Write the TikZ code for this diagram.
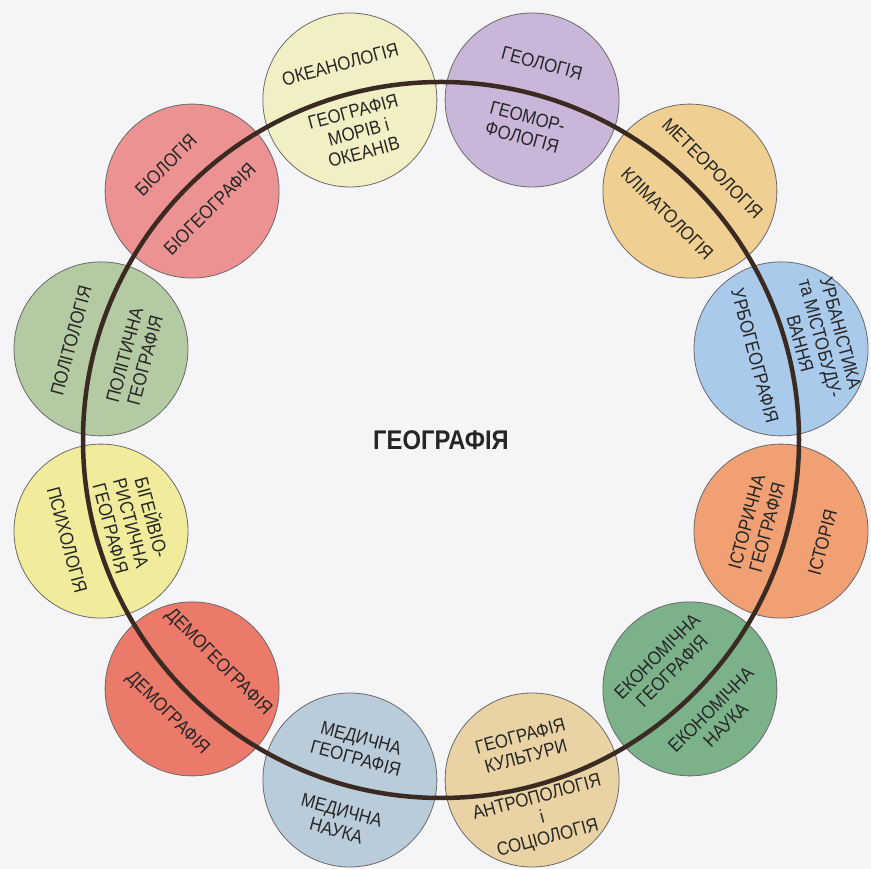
\documentclass[tikz,border=0pt]{standalone}
\usepackage{fontspec}
\setmainfont[FakeStretch=0.88]{Liberation Sans}
\usetikzlibrary{calc}
\definecolor{paper}{HTML}{F5F4F6}
\definecolor{ink}{HTML}{262626}
\definecolor{ringc}{HTML}{3A2A22}
\definecolor{discline}{HTML}{6A6A6A}
\definecolor{oceanc}{HTML}{F1EFC3}
\definecolor{geolc}{HTML}{C9B6D9}
\definecolor{meteoc}{HTML}{F0CF92}
\definecolor{urbanc}{HTML}{AACAEC}
\definecolor{histc}{HTML}{F0A072}
\definecolor{econc}{HTML}{7BB28A}
\definecolor{cultc}{HTML}{E9D2A3}
\definecolor{medc}{HTML}{BACBD9}
\definecolor{democ}{HTML}{EC7A6A}
\definecolor{psychc}{HTML}{F1EC9C}
\definecolor{politc}{HTML}{B3CAA3}
\definecolor{bioc}{HTML}{EC9292}
\tikzset {
  % one of the twelve neighbour sciences
  disc/.style = {
    draw = discline,
    circle,
    line width = 0.8pt,
    minimum size = 174pt,
    inner sep = 0
  },
  % text inside a disc
  tag/.style = {
    text = ink,
    align = center,
    inner sep = 0,
    font = \fontsize{19}{21}\selectfont
  },
  % the big ring
  ring/.style = {
    draw = ringc,
    line width = 4.5pt
  }
}

\begin{document}
\begin{tikzpicture}[x=1pt, y=1pt]
    \useasboundingbox[fill=paper] (0,0) rectangle (871,869);
    \node[text=ink, font=\bfseries\fontsize{27}{30}\selectfont] (geo) at (441,429) {ГЕОГРАФІЯ};

    \node[disc, fill=oceanc] (ocean) at ($(geo)+(105:352)$) {};
    \node[disc, fill=geolc] (geol) at ($(geo)+(75:352)$) {};
    \node[disc, fill=meteoc] (meteo) at ($(geo)+(45:352)$) {};
    \node[disc, fill=urbanc] (urban) at ($(geo)+(15:352)$) {};
    \node[disc, fill=histc] (hist) at ($(geo)+(-15:352)$) {};
    \node[disc, fill=econc] (econ) at ($(geo)+(-45:352)$) {};
    \node[disc, fill=cultc] (cult) at ($(geo)+(-75:352)$) {};
    \node[disc, fill=medc] (med) at ($(geo)+(-105:352)$) {};
    \node[disc, fill=democ] (demo) at ($(geo)+(-135:352)$) {};
    \node[disc, fill=psychc] (psych) at ($(geo)+(-165:352)$) {};
    \node[disc, fill=politc] (polit) at ($(geo)+(165:352)$) {};
    \node[disc, fill=bioc] (bio) at ($(geo)+(135:352)$) {};

    \draw[ring] (geo.center) circle[radius=358];

    \node[tag, rotate=15] (ocean-out) at ($(ocean)+(105:37)$) {ОКЕАНОЛОГІЯ};
    \node[tag, rotate=15] (ocean-in) at ($(ocean)+(285:33)$) {ГЕОГРАФІЯ\\МОРІВ і\\ОКЕАНІВ};
    \node[tag, rotate=-15] (geol-out) at ($(geol)+(75:38)$) {ГЕОЛОГІЯ};
    \node[tag, rotate=-15] (geol-in) at ($(geol)+(255:28)$) {ГЕОМОР-\\ФОЛОГІЯ};
    \node[tag, rotate=-45] (meteo-out) at ($(meteo)+(45:32)$) {МЕТЕОРОЛОГІЯ};
    \node[tag, rotate=-45] (meteo-in) at ($(meteo)+(225:32)$) {КЛІМАТОЛОГІЯ};
    \node[tag, rotate=-75] (urban-out) at ($(urban)+(15:41)$) {УРБАНІСТИКА\\та МІСТОБУДУ-\\ВАННЯ};
    \node[tag, rotate=-75] (urban-in) at ($(urban)+(195:27)$) {УРБОГЕОГРАФІЯ};
    \node[tag, rotate=75] (hist-in) at ($(hist)+(165:25)$) {ІСТОРИЧНА\\ГЕОГРАФІЯ};
    \node[tag, rotate=75] (hist-out) at ($(hist)+(-15:43)$) {ІСТОРІЯ};
    \node[tag, rotate=45] (econ-in) at ($(econ)+(135:36)$) {ЕКОНОМІЧНА\\ГЕОГРАФІЯ};
    \node[tag, rotate=45] (econ-out) at ($(econ)+(-45:40)$) {ЕКОНОМІЧНА\\НАУКА};
    \node[tag, rotate=15] (cult-in) at ($(cult)+(105:35)$) {ГЕОГРАФІЯ\\КУЛЬТУРИ};
    \node[tag, rotate=15] (cult-out) at ($(cult)+(-75:40)$) {АНТРОПОЛОГІЯ\\і\\СОЦІОЛОГІЯ};
    \node[tag, rotate=-15] (med-in) at ($(med)+(75:33)$) {МЕДИЧНА\\ГЕОГРАФІЯ};
    \node[tag, rotate=-15] (med-out) at ($(med)+(-105:42)$) {МЕДИЧНА\\НАУКА};
    \node[tag, rotate=-45] (demo-in) at ($(demo)+(45:37)$) {ДЕМОГЕОГРАФІЯ};
    \node[tag, rotate=-45] (demo-out) at ($(demo)+(-135:35)$) {ДЕМОГРАФІЯ};
    \node[tag, rotate=-75] (psych-out) at ($(psych)+(-165:35)$) {ПСИХОЛОГІЯ};
    \node[tag, rotate=-75] (psych-in) at ($(psych)+(15:33)$) {БІГЕЙВІО-\\РИСТИЧНА\\ГЕОГРАФІЯ};
    \node[tag, rotate=75] (polit-out) at ($(polit)+(165:31)$) {ПОЛІТОЛОГІЯ};
    \node[tag, rotate=75] (polit-in) at ($(polit)+(-15:35)$) {ПОЛІТИЧНА\\ГЕОГРАФІЯ};
    \node[tag, rotate=45] (bio-out) at ($(bio)+(135:37)$) {БІОЛОГІЯ};
    \node[tag, rotate=45] (bio-in) at ($(bio)+(-45:25)$) {БІОГЕОГРАФІЯ};
\end{tikzpicture}
\end{document}
